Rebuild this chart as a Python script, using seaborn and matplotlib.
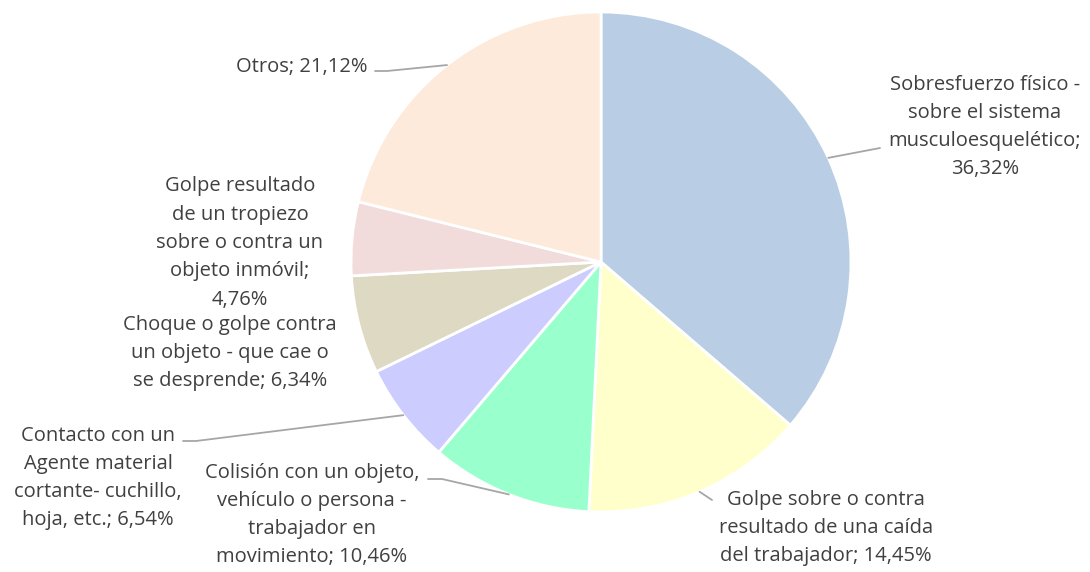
import numpy as np
import matplotlib.pyplot as plt
import seaborn as sns

sns.set_theme(style="white")
plt.rcParams['font.family'] = ['Open Sans', 'DejaVu Sans']

categories = [
    "Sobresfuerzo físico -\nsobre el sistema\nmusculoesquelético;",
    "Golpe sobre o contra\nresultado de una caída\ndel trabajador;",
    "Colisión con un objeto,\nvehículo o persona -\ntrabajador en\nmovimiento;",
    "Contacto con un\nAgente material\ncortante- cuchillo,\nhoja, etc.;",
    "Choque o golpe contra\nun objeto - que cae o\nse desprende;",
    "Golpe resultado\nde un tropiezo\nsobre o contra un\nobjeto inmóvil;",
    "Otros;",
]
values = [36.32, 14.45, 10.46, 6.54, 6.34, 4.76, 21.12]
colors = ["#B9CDE5", "#FFFFCC", "#99FFCC", "#CCCCFF", "#DDD9C3", "#F2DCDB", "#FDEADA"]
# percentage on its own line?
pct_newline = [True, False, False, False, False, True, False]

labels = []
for c, v, nl in zip(categories, values, pct_newline):
    pct = f"{v:.2f}%".replace(".", ",")
    labels.append(c + ("\n" if nl else " ") + pct)

W, H = 1090, 572
cx, cy, R = 601, 262, 250

fig = plt.figure(figsize=(W / 100, H / 100), dpi=100)
ax = fig.add_axes([(cx - R) / W, (H - cy - R) / H, 2 * R / W, 2 * R / H])
wedges, _ = ax.pie(values, colors=colors, startangle=90, counterclock=False,
                   wedgeprops=dict(edgecolor="white", linewidth=2))
ax.set_xlim(-1, 1)
ax.set_ylim(-1, 1)
ax.set_aspect("equal")
ax.axis("off")


def d(px, py):
    return ((px - cx) / R, (cy - py) / R)


# label centres and leader ends in pixel space
label_pos = [(985, 127), (826, 528), (312, 515), (98, 478), (230, 353), (240, 243), (302, 67)]
leader_end = [(880, 148), (712, 500), (428, 479), (183, 441), None, None, (375, 71)]
leader_knee = [(880, 148), (712, 500), (442, 479), (196, 441), None, None, (387, 71)]

for w, lab, pos, end, knee in zip(wedges, labels, label_pos, leader_end, leader_knee):
    x, y = d(*pos)
    ax.text(x, y, lab, ha="center", va="center", fontsize=14.5, color="#404040",
            linespacing=1.55, clip_on=False)
    if end is not None:
        mid = np.deg2rad((w.theta1 + w.theta2) / 2)
        ex, ey = np.cos(mid), np.sin(mid)
        kx, ky = d(*knee)
        tx, ty = d(*end)
        ax.plot([ex, kx, tx], [ey, ky, ty], color="#A6A6A6", lw=1.3, clip_on=False)

fig.savefig("out.png", dpi=100, facecolor="white")
